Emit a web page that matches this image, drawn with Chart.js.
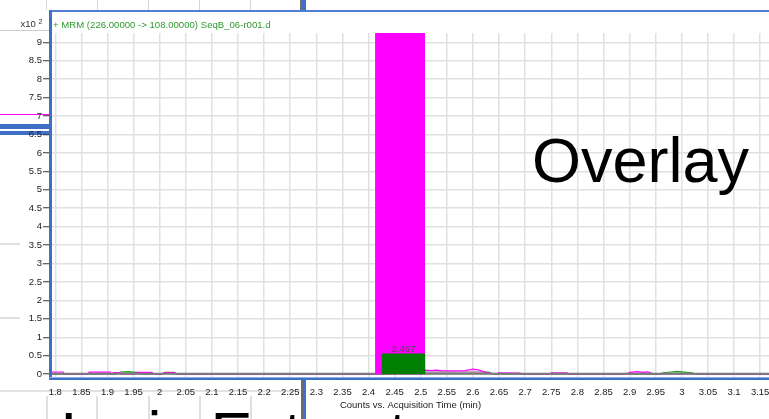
<!DOCTYPE html>
<html>
<head>
<meta charset="utf-8">
<script src="https://cdn.jsdelivr.net/npm/chart.js@4/dist/chart.umd.min.js"></script>
<style>
  html, body { margin: 0; padding: 0; background: #fff; overflow: hidden; }
  #wrap { position: relative; width: 769px; height: 419px; overflow: hidden;
          font-family: Arial, "Liberation Sans", sans-serif; }
  .ln { position: absolute; }
  .t { position: absolute; white-space: nowrap; line-height: 1; }
  canvas { position: absolute; left: 0; top: 0; }
</style>
</head>
<body>
<div id="wrap">
  <!-- neighbouring panes behind the chart window -->
  <div class="ln" style="left:46px;top:0;width:1px;height:10px;background:#d6d6d6"></div>
  <div class="ln" style="left:97px;top:0;width:1px;height:10px;background:#d6d6d6"></div>
  <div class="ln" style="left:148px;top:0;width:1px;height:10px;background:#d6d6d6"></div>
  <div class="ln" style="left:199px;top:0;width:1px;height:10px;background:#d6d6d6"></div>
  <div class="ln" style="left:250px;top:0;width:1px;height:10px;background:#d6d6d6"></div>
  <div class="ln" style="left:300px;top:0;width:2px;height:11px;background:#707070"></div>
  <div class="ln" style="left:302px;top:0;width:4px;height:11px;background:#3d6fc6"></div>
  <div class="ln" style="left:0;top:30px;width:49px;height:1px;background:#cfcfcf"></div>
  <div class="ln" style="left:0;top:114px;width:49px;height:1px;background:#ff00ff"></div>
  <div class="ln" style="left:0;top:124px;width:49px;height:5px;background:#3d6fc6"></div>
  <div class="ln" style="left:0;top:131px;width:49px;height:4px;background:#3d6fc6"></div>
  <div class="ln" style="left:0;top:243px;width:20px;height:2px;background:#e0e0e0"></div>
  <div class="ln" style="left:0;top:317px;width:20px;height:2px;background:#e0e0e0"></div>
  <div class="ln" style="left:0;top:390px;width:300px;height:2px;background:#e2e2e2"></div>
  <div class="ln" style="left:46px;top:396px;width:2px;height:23px;background:#e0e0e0"></div>
  <div class="ln" style="left:96px;top:396px;width:2px;height:23px;background:#e0e0e0"></div>
  <div class="ln" style="left:148px;top:396px;width:2px;height:23px;background:#e0e0e0"></div>
  <div class="ln" style="left:199px;top:396px;width:2px;height:23px;background:#e0e0e0"></div>
  <div class="ln" style="left:250px;top:396px;width:2px;height:23px;background:#e0e0e0"></div>
  <div class="ln" style="left:301px;top:380px;width:2px;height:39px;background:#6b6b6b"></div>
  <div class="ln" style="left:303px;top:380px;width:3px;height:39px;background:#3d6fc6"></div>

  <canvas id="chart" width="769" height="419"></canvas>

  <!-- chart window frame -->
  <div class="ln" style="left:49px;top:10px;width:720px;height:2px;background:#4f7fd2"></div>
  <div class="ln" style="left:49px;top:10px;width:3px;height:370px;background:#3d6fc6"></div>
  <div class="ln" style="left:49px;top:377px;width:720px;height:1px;background:#8fb0e8"></div>
  <div class="ln" style="left:49px;top:378px;width:720px;height:2px;background:#3d6fc6"></div>

  <div class="t" style="left:20.5px;top:19.4px;font-size:9.5px;color:#333">x10</div>
  <div class="t" style="left:38.5px;top:18.1px;font-size:7px;color:#333">2</div>
  <div class="t" style="left:53px;top:19.9px;font-size:9.6px;color:#2e9a2e">+ MRM (226.00000 -&gt; 108.00000) SeqB_06-r001.d</div>
  <div class="t" style="left:532px;top:129.2px;font-size:63px;color:#000">Overlay</div>
  <div class="t" style="left:60px;top:403px;font-size:63px;color:#000">Ionic Extract</div>
</div>

<script>
// Axis ranges (minutes, counts x10^2) and grid steps
const timeRange = [1.7937, 3.167];
const countRange = [-0.076, 9.251];
const timeStep = 0.05;
const countStep = 0.5;

// Total ion baseline
const baselineTime = [1.7937, 3.167];
const baselineCounts = [0.015, 0.015];

// Magenta trace (low-level signal outside the peak)
const magentaTime = [1.7937, 1.815, 1.818, 1.862, 1.865, 1.905, 1.908, 1.911, 1.924, 1.927,
  1.952, 1.955, 1.985, 1.988, 2.005, 2.008, 2.029, 2.032, 2.41,
  2.5083, 2.52, 2.53, 2.54, 2.56, 2.585, 2.6, 2.61, 2.62, 2.63, 2.645, 2.65, 2.69, 2.695,
  2.745, 2.75, 2.78, 2.785, 2.893, 2.9, 2.915, 2.925, 2.935, 2.945, 2.96, 2.965, 3.02, 3.025, 3.167];
const magentaCounts = [0.06, 0.06, 0.0, 0.0, 0.055, 0.055, 0.0, 0.045, 0.045, 0.0,
  0.0, 0.05, 0.05, 0.0, 0.0, 0.045, 0.045, 0.0, 0.0,
  0.11, 0.1, 0.11, 0.095, 0.09, 0.095, 0.14, 0.12, 0.07, 0.03, 0.01, 0.035, 0.03, 0.0,
  0.0, 0.035, 0.035, 0.0, 0.0, 0.05, 0.07, 0.05, 0.065, 0.01, 0.0, 0.01, 0.01, 0.0, 0.0];

// Green trace (low-level signal outside the peak)
const greenTime = [1.7937, 1.915, 1.925, 1.94, 1.955, 1.96, 2.005, 2.01, 2.028, 2.032, 2.425,
  2.5083, 2.63, 2.64, 2.955, 2.965, 2.98, 2.99, 3.0, 3.02, 3.025, 3.167];
const greenCounts = [0.0, 0.0, 0.06, 0.07, 0.05, 0.0, 0.0, 0.05, 0.05, 0.0, 0.0,
  0.06, 0.06, 0.0, 0.0, 0.04, 0.06, 0.075, 0.065, 0.04, 0.0, 0.0];

// Main peak (goes off scale) and integrated region
const peakTime = [2.4125, 2.5083];
const peakCounts = [12, 12];
const integTime = [2.425, 2.509];
const integCounts = [0.558, 0.558];
const peakRT = [2.467];

const toXY = (xs, ys) => xs.map((x, i) => ({ x: x, y: ys[i] }));
const box = (xs, ys) => [
  { x: xs[0], y: 0 }, { x: xs[0], y: ys[0] },
  { x: xs[1], y: ys[1] }, { x: xs[1], y: 0 }
];
const fmt = v => String(Number(v.toFixed(2)));

const rtLabels = {
  id: 'rtLabels',
  afterDatasetsDraw(chart) {
    const { ctx, scales } = chart;
    ctx.save();
    ctx.font = '9.5px Arial, "Liberation Sans", sans-serif';
    ctx.fillStyle = '#4a4a4a';
    ctx.textAlign = 'center';
    ctx.textBaseline = 'alphabetic';
    peakRT.forEach(rt => {
      const x = scales.x.getPixelForValue(rt);
      const y = scales.y.getPixelForValue(integCounts[0]) - 2;
      ctx.fillText(rt.toFixed(3), x, y);
    });
    ctx.restore();
  }
};

new Chart(document.getElementById('chart'), {
  type: 'line',
  data: {
    datasets: [
      { data: box(integTime, integCounts), order: 0, borderWidth: 0,
        backgroundColor: '#008000', fill: 'origin', pointRadius: 0 },
      { data: box(peakTime, peakCounts), order: 1, borderWidth: 0,
        backgroundColor: '#ff00ff', fill: 'origin', pointRadius: 0 },
      { data: toXY(baselineTime, baselineCounts), order: 2, borderWidth: 2,
        borderColor: '#7a7a7a', fill: false, pointRadius: 0 },
      { data: toXY(magentaTime, magentaCounts), order: 3, borderWidth: 1.2,
        borderColor: '#ff00ff', backgroundColor: 'rgba(255,120,255,0.45)', fill: 'origin', pointRadius: 0 },
      { data: toXY(greenTime, greenCounts), order: 4, borderWidth: 1.2,
        borderColor: '#2a9a2a', backgroundColor: 'rgba(110,200,110,0.7)', fill: 'origin', pointRadius: 0 }
    ]
  },
  options: {
    responsive: false,
    devicePixelRatio: 1,
    animation: false,
    events: [],
    layout: { autoPadding: false, padding: { top: 33, left: 0, right: 0, bottom: 0 } },
    plugins: { legend: { display: false }, tooltip: { enabled: false } },
    elements: { line: { tension: 0 } },
    scales: {
      x: {
        type: 'linear',
        min: timeRange[0], max: timeRange[1],
        afterFit: s => { s.height = 42; s.paddingLeft = 0; s.paddingRight = 0; },
        border: { display: false },
        grid: { color: '#e0e0e0', lineWidth: 1.5, drawTicks: false },
        ticks: {
          stepSize: timeStep, includeBounds: false, autoSkip: false,
          maxRotation: 0, minRotation: 0, padding: 10,
          color: '#222', font: { size: 9.5, family: 'Arial, "Liberation Sans", sans-serif' },
          callback: v => fmt(v)
        },
        title: {
          display: true, text: 'Counts vs. Acquisition Time (min)',
          color: '#222', font: { size: 9.5, family: 'Arial, "Liberation Sans", sans-serif' },
          padding: { top: 0, bottom: 8 }
        }
      },
      y: {
        type: 'linear',
        min: countRange[0], max: countRange[1],
        afterFit: s => { s.width = 52; s.paddingTop = 0; s.paddingBottom = 0; },
        border: { display: false },
        grid: { color: '#e0e0e0', lineWidth: 1.5, tickLength: 9, tickColor: '#333', tickWidth: 1 },
        ticks: {
          stepSize: countStep, includeBounds: false, padding: 1,
          color: '#222', font: { size: 9.5, family: 'Arial, "Liberation Sans", sans-serif' },
          callback: v => fmt(v)
        }
      }
    }
  },
  plugins: [rtLabels]
});
</script>
</body>
</html>
